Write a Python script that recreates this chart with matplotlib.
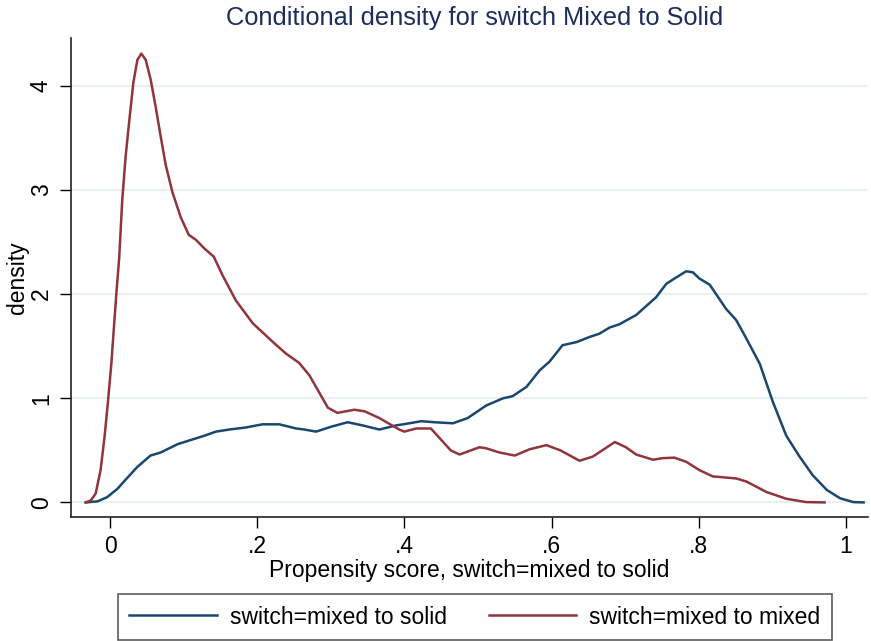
import matplotlib
matplotlib.use("Agg")
import matplotlib.pyplot as plt

plt.rcParams['font.family'] = ['Liberation Sans', 'DejaVu Sans']

# switch = mixed to solid (blue)
solid_x = [-0.033, -0.017, -0.004, 0.010, 0.024, 0.037, 0.055, 0.069, 0.092, 0.110, 0.128, 0.144, 0.162,
           0.185, 0.207, 0.230, 0.253, 0.264, 0.280, 0.302, 0.323, 0.343, 0.366, 0.389, 0.407,
           0.423, 0.441, 0.466, 0.486, 0.511, 0.534, 0.547, 0.566, 0.584, 0.597, 0.615, 0.634,
           0.652, 0.665, 0.679, 0.692, 0.715, 0.742, 0.756, 0.767, 0.783, 0.792, 0.801, 0.815,
           0.837, 0.851, 0.865, 0.883, 0.901, 0.919, 0.937, 0.955, 0.974, 0.992, 1.010, 1.024]
solid_y = [0.0, 0.01, 0.05, 0.13, 0.24, 0.34, 0.45, 0.48, 0.56, 0.60, 0.64, 0.68, 0.70,
           0.72, 0.75, 0.75, 0.71, 0.70, 0.68, 0.73, 0.77, 0.74, 0.70, 0.74, 0.76,
           0.78, 0.77, 0.76, 0.81, 0.93, 1.00, 1.02, 1.11, 1.27, 1.35, 1.51, 1.54,
           1.59, 1.62, 1.68, 1.71, 1.80, 1.97, 2.10, 2.15, 2.22, 2.21, 2.15, 2.09,
           1.86, 1.75, 1.57, 1.33, 0.96, 0.64, 0.44, 0.26, 0.12, 0.04, 0.003, 0.0]

# switch = mixed to mixed (red)
mixed_x = [-0.033, -0.026, -0.0195, -0.0128, -0.0074, -0.003, 0.0018, 0.0054, 0.009, 0.0125,
           0.0166, 0.0212, 0.0258, 0.0317, 0.0372, 0.0426, 0.0485, 0.0553, 0.062, 0.069, 0.0757,
           0.0848, 0.096, 0.107, 0.117, 0.128, 0.141, 0.153, 0.171, 0.194, 0.223, 0.239, 0.257,
           0.271, 0.296, 0.309, 0.332, 0.346, 0.366, 0.393, 0.400, 0.416, 0.436, 0.463, 0.475,
           0.502, 0.511, 0.529, 0.550, 0.570, 0.593, 0.612, 0.638, 0.656, 0.686, 0.701, 0.715,
           0.738, 0.751, 0.767, 0.783, 0.801, 0.819, 0.851, 0.865, 0.892, 0.919, 0.946, 0.971]
mixed_y = [0.0, 0.02, 0.085, 0.31, 0.63, 0.95, 1.33, 1.69, 2.04, 2.35,
           2.90, 3.32, 3.64, 4.03, 4.25, 4.31, 4.25, 4.06, 3.80, 3.51, 3.24,
           2.98, 2.74, 2.57, 2.52, 2.44, 2.36, 2.18, 1.94, 1.72, 1.53, 1.43, 1.34,
           1.22, 0.91, 0.86, 0.89, 0.875, 0.81, 0.70, 0.68, 0.71, 0.71, 0.50, 0.46,
           0.53, 0.52, 0.48, 0.45, 0.51, 0.55, 0.50, 0.40, 0.44, 0.58, 0.53, 0.46,
           0.41, 0.425, 0.43, 0.39, 0.31, 0.25, 0.23, 0.20, 0.10, 0.035, 0.003, 0.0]

x_ticks = [0, 0.2, 0.4, 0.6, 0.8, 1.0]
x_tick_labels = ['0', '.2', '.4', '.6', '.8', '1']
y_ticks = [0, 1, 2, 3, 4]
y_tick_labels = ['0', '1', '2', '3', '4']

BLUE = '#1a476f'
RED = '#90353b'
FS = 16.5

fig = plt.figure(figsize=(8.71, 6.41), dpi=100)
ax = fig.add_axes([71/871, 1 - 517/641, (868 - 71)/871, (517 - 38)/641])

l1, = ax.plot(solid_x, solid_y, color=BLUE, lw=1.8, label='switch=mixed to solid',
              solid_joinstyle='round')
l2, = ax.plot(mixed_x, mixed_y, color=RED, lw=1.8, label='switch=mixed to mixed',
              solid_joinstyle='round')

ax.set_xlim(-0.053, 1.03)
ax.set_ylim(-0.14, 4.46)
ax.set_xticks(x_ticks)
ax.set_xticklabels(x_tick_labels)
ax.set_yticks(y_ticks)
ax.set_yticklabels(y_tick_labels, rotation=90, va='center')
ax.tick_params(axis='both', direction='out', length=8, width=1.0, labelsize=FS, colors='black', pad=5)
ax.grid(axis='y', color='#e8f0f2', lw=1.5)
ax.set_axisbelow(True)
for s in ['top', 'right']:
    ax.spines[s].set_visible(False)
for s in ['left', 'bottom']:
    ax.spines[s].set_color('#222222')
    ax.spines[s].set_linewidth(1.2)

ax.set_xlabel('Propensity score, switch=mixed to solid', fontsize=FS, labelpad=1)
ax.set_ylabel('density', fontsize=FS, labelpad=1)
fig.text(475/871, 1 - 18/641, 'Conditional density for switch Mixed to Solid',
         ha='center', va='center', fontsize=18.3, color='#1c2d5a')

leg = fig.legend(handles=[l1, l2], loc='center', bbox_to_anchor=(475/871, 1 - 617/641),
                 ncol=2, fontsize=FS, frameon=True, fancybox=False, edgecolor='#333333',
                 handlelength=3.8, handletextpad=0.6, columnspacing=1.8, borderpad=0.5)
leg.get_frame().set_linewidth(1.2)

fig.savefig('out.png', dpi=100, facecolor='white')
